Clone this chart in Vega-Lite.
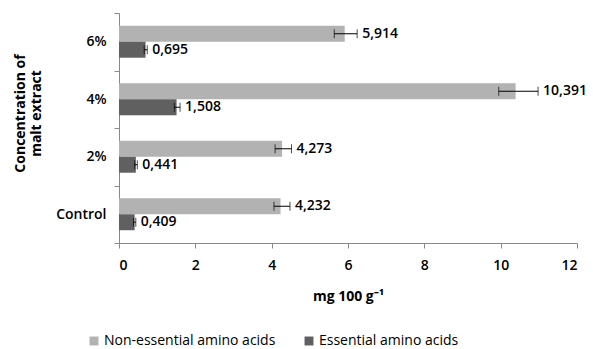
{
  "$schema": "https://vega.github.io/schema/vega-lite/v6.json",
  "autosize": "none",
  "padding": {"left": 119, "top": 13, "right": 16, "bottom": 106},
  "width": 458,
  "height": 230,
  "background": "white",
  "config": {
    "font": "Open Sans",
    "view": {"stroke": null},
    "axis": {"labelFont": "Open Sans", "titleFont": "Open Sans", "labelColor": "#000", "titleColor": "#000", "domainColor": "#888", "tickColor": "#888", "grid": false}
  },
  "data": {
    "values": [
      {"group": "6%", "series": "Non-essential amino acids", "value": 5.914, "lo": 5.64, "hi": 6.24, "label": "5,914"},
      {"group": "6%", "series": "Essential amino acids", "value": 0.695, "lo": 0.66, "hi": 0.74, "label": "0,695"},
      {"group": "4%", "series": "Non-essential amino acids", "value": 10.391, "lo": 9.95, "hi": 10.98, "label": "10,391"},
      {"group": "4%", "series": "Essential amino acids", "value": 1.508, "lo": 1.45, "hi": 1.6, "label": "1,508"},
      {"group": "2%", "series": "Non-essential amino acids", "value": 4.273, "lo": 4.09, "hi": 4.52, "label": "4,273"},
      {"group": "2%", "series": "Essential amino acids", "value": 0.441, "lo": 0.41, "hi": 0.48, "label": "0,441"},
      {"group": "Control", "series": "Non-essential amino acids", "value": 4.232, "lo": 4.06, "hi": 4.48, "label": "4,232"},
      {"group": "Control", "series": "Essential amino acids", "value": 0.409, "lo": 0.38, "hi": 0.44, "label": "0,409"}
    ]
  },
  "encoding": {
    "y": {
      "field": "group", "type": "nominal",
      "sort": ["6%", "4%", "2%", "Control"],
      "scale": {"paddingInner": 0, "paddingOuter": 0},
      "axis": {
        "title": ["Concentration of", "malt extract"],
        "titleFontSize": 14, "titleFontWeight": "bold", "titlePadding": 12,
        "titleAlign": "center", "titleY": 100,
        "labelFontSize": 14, "labelFontWeight": 600, "labelPadding": 8, "tickBand": "extent", "tickSize": 5
      }
    },
    "yOffset": {
      "field": "series", "type": "nominal",
      "sort": ["Non-essential amino acids", "Essential amino acids"],
      "scale": {"paddingInner": 0, "paddingOuter": 0.8}
    }
  },
  "layer": [
    {
      "mark": {"type": "bar"},
      "encoding": {
        "x": {
          "field": "value", "type": "quantitative",
          "scale": {"domain": [0, 12], "nice": false},
          "axis": {"values": [0, 2, 4, 6, 8, 10, 12], "title": "mg 100 g⁻¹", "titleFontSize": 14, "titleFontWeight": "bold", "titlePadding": 17, "labelFontSize": 14, "labelFontWeight": 600, "labelPadding": 10, "tickSize": 5}
        },
        "color": {
          "field": "series", "type": "nominal",
          "scale": {"domain": ["Non-essential amino acids", "Essential amino acids"], "range": ["#b2b2b2", "#606060"]},
          "legend": {
            "title": null, "orient": "none", "direction": "horizontal",
            "legendX": -32, "legendY": 321,
            "symbolType": "square", "symbolSize": 80, "symbolStrokeWidth": 0,
            "labelFontSize": 14, "labelFont": "Open Sans", "labelColor": "#000", "labelLimit": 300,
            "columnPadding": 26, "labelOffset": 3
          }
        }
      }
    },
    {
      "mark": {"type": "rule", "color": "#000", "strokeWidth": 1},
      "encoding": {"x": {"field": "lo", "type": "quantitative"}, "x2": {"field": "hi"}}
    },
    {
      "mark": {"type": "tick", "color": "#000", "thickness": 1, "size": 9},
      "encoding": {"x": {"field": "lo", "type": "quantitative"}}
    },
    {
      "mark": {"type": "tick", "color": "#000", "thickness": 1, "size": 9},
      "encoding": {"x": {"field": "hi", "type": "quantitative"}}
    },
    {
      "mark": {"type": "text", "align": "left", "baseline": "middle", "dx": 5, "fontSize": 14, "fontWeight": 600, "font": "Open Sans", "color": "#000"},
      "encoding": {"x": {"field": "hi", "type": "quantitative"}, "text": {"field": "label"}}
    }
  ]
}
